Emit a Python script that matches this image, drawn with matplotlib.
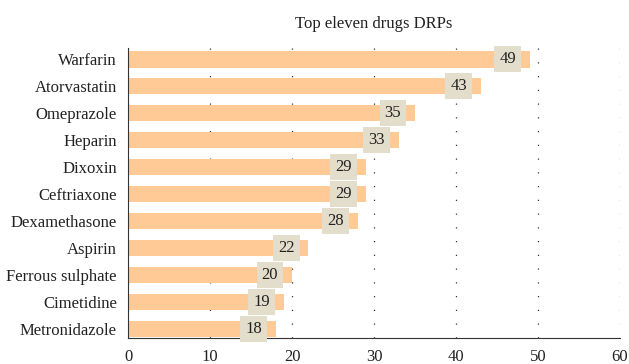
import matplotlib.pyplot as plt

drugs = ['Warfarin', 'Atorvastatin', 'Omeprazole', 'Heparin', 'Dixoxin',
         'Ceftriaxone', 'Dexamethasone', 'Aspirin', 'Ferrous sulphate',
         'Cimetidine', 'Metronidazole']
counts = [49, 43, 35, 33, 29, 29, 28, 22, 20, 19, 18]
xticks = [0, 10, 20, 30, 40, 50, 60]

plt.rcParams['font.family'] = ['Liberation Serif', 'DejaVu Serif']

fig = plt.figure(figsize=(6.29, 3.64), dpi=100)
ax = fig.add_axes([0.2035, 0.0714, 0.7822, 0.797])

pos = list(range(len(drugs) - 1, -1, -1))
ax.barh(pos, counts, height=0.6, color='#FFCA96', zorder=2)

for y, v in zip(pos, counts):
    ax.text(v - 2.7, y, str(v), ha='center', va='center', fontsize=12,
            color='#222222', zorder=3,
            bbox=dict(boxstyle='square,pad=0.3', fc='#E3DDCB', ec='none'))

ax.set_yticks(pos)
ax.set_yticklabels(drugs, fontsize=12, color='#222222')
ax.set_xticks(xticks)
ax.set_xticklabels([str(t) for t in xticks], fontsize=12, color='#222222')
ax.set_xlim(0, 60)
ax.set_ylim(-0.35, 10.43)
ax.tick_params(length=0, pad=8)

ax.xaxis.grid(True, linestyle=(0, (1, 10)), color='#333333', linewidth=0.9)
ax.set_axisbelow(True)
for s in ['top', 'right']:
    ax.spines[s].set_visible(False)
ax.spines['left'].set_color('#333333')
ax.spines['bottom'].set_color('#333333')

ax.set_title('Top eleven drugs DRPs', fontsize=12, color='#222222', pad=14)

fig.savefig('out.png', dpi=100)
